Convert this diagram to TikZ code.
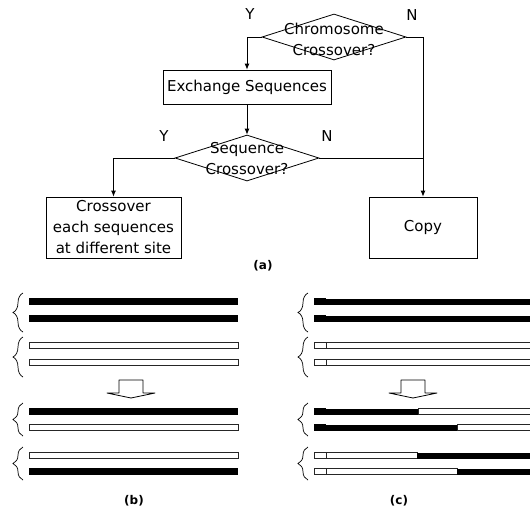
\documentclass[tikz,border=0pt]{standalone}
\usepackage{fontspec}
\setmainfont{DejaVu Sans}
\usetikzlibrary{arrows.meta,calc,shapes.geometric,decorations.pathreplacing}

\tikzset{
  box/.style={draw, line width=0.8pt, inner sep=0pt, align=center,
    font=\fontsize{15}{21}\selectfont},
  decision/.style={draw, diamond, line width=0.8pt, inner sep=0pt,
    minimum width=144pt, minimum height=46pt},
  dtext/.style={align=center, inner sep=0pt, font=\fontsize{15}{21}\selectfont},
  yn/.style={inner sep=0pt, font=\fontsize{15}{18}\selectfont},
  tag/.style={inner sep=0pt, font=\fontsize{12}{14}\selectfont\bfseries},
  dark/.style={fill=black},
  light/.style={draw=black!85, line width=0.7pt, fill=white},
  pair/.style={decorate, decoration={brace, amplitude=10pt}, line width=0.7pt},
  hollow/.style={draw, line width=0.8pt, fill=white, line join=round},
}

\begin{document}
\begin{tikzpicture}[x=1pt, y=-1pt, >={Latex[length=6pt,width=5pt]}, line width=0.8pt]
  \useasboundingbox (0,0) rectangle (530,515);

  % (a) flow of the operator
  \node[decision] (CH) at (334,37) {};
  \node[dtext] (CHt) at (334,39) {Chromosome\\Crossover?};
  \node[box, minimum width=168pt, minimum height=34pt] (EX) at (247,87) {Exchange Sequences};
  \node[decision] (SQ) at (247,158) {};
  \node[dtext] (SQt) at (247,159) {Sequence\\Crossover?};
  \node[box, minimum width=135pt, minimum height=61pt] (CR) at (113.5,227.5)
    {Crossover\\each sequences\\at different site};
  \node[box, minimum width=108pt, minimum height=61pt] (CP) at (423,227.5) {Copy};

  \draw[->] (CH.west) -| (EX.north);
  \draw[->] (CH.east) -| (CP.north);
  \draw[->] (EX.south) -- (SQ.north);
  \draw[->] (SQ.west) -| (CR.north);
  \draw (SQ.east) -- (SQ.east -| CP.north);

  \node[yn] (Y1) at (250,14) {Y};
  \node[yn] (N1) at (412,15) {N};
  \node[yn] (Y2) at (164,136) {Y};
  \node[yn] (N2) at (327,136) {N};
  \node[tag] (La) at (263,266) {(a)};

  % (b) whole sequences swapped
  \foreach \y/\s in {298/dark, 315/dark, 342/light, 359/light,
                     408/dark, 424/light, 452/light, 468/dark}
    \path[\s] (29,\y) rectangle (238,{\y+6.5});

  % (c) each sequence cut at its own site
  \foreach \y/\s in {298/dark, 315/dark, 342/light, 359/light} {
    \path[\s] (314,\y) rectangle (326,{\y+6.5});
    \path[\s] (326,{\y+0.5}) rectangle (533,{\y+6.5});
  }
  \foreach \y/\a/\b/\x in {408/dark/light/418, 424/dark/light/457,
                           452/light/dark/417, 468/light/dark/457} {
    \path[\a] (314,\y) rectangle (326,{\y+6.5});
    \path[\a] (326,{\y+0.5}) rectangle (\x,{\y+6.5});
    \path[\b] (\x,{\y+0.5}) rectangle (533,{\y+6.5});
  }

  % chromosome braces
  \foreach \t/\b in {293/332, 337/377, 403/436, 447/480} {
    \draw[pair] (23,\b) -- (23,\t);
    \draw[pair] (308,\b) -- (308,\t);
  }

  % down arrows
  \foreach \c in {131, 413}
    \draw[hollow] ({\c-12},380) -- ({\c+12},380) -- ({\c+12},393) -- ({\c+24},393)
      -- (\c,398) -- ({\c-24},393) -- ({\c-12},393) -- cycle;

  \node[tag] (Lb) at (134,501) {(b)};
  \node[tag] (Lc) at (399,501) {(c)};
\end{tikzpicture}
\end{document}
